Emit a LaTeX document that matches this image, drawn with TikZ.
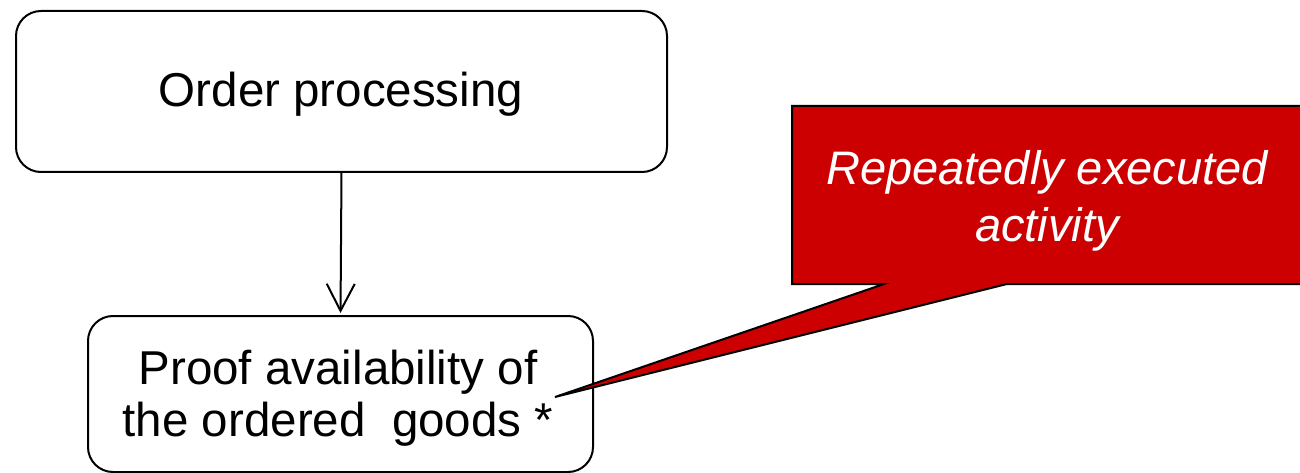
\documentclass[tikz,border=0pt]{standalone}
\usepackage{fontspec}
\setmainfont{Liberation Sans}
\usetikzlibrary{arrows.meta}
\definecolor{calloutred}{RGB}{204,0,0}
\tikzset{
  stepbox/.style={draw=black, line width=2pt, rounded corners=25pt, fill=white,
                  inner sep=0pt, outer sep=0pt},
  boxtext/.style={inner sep=0pt, align=center, font=\fontsize{47.5}{52}\selectfont},
  notetext/.style={inner sep=0pt, align=center, text=white,
                   font=\fontsize{47}{57}\selectfont\itshape},
  flow/.style={draw=black, line width=2pt, -{Straight Barb[length=27pt,width=28pt,line width=2pt]}},
  notebox/.style={draw=black, line width=2pt, fill=calloutred, line join=miter, miter limit=20}
}
\begin{document}
\begin{tikzpicture}[x=1pt,y=-1pt]
  \useasboundingbox (0,0) rectangle (1300,473);

  % process steps
  \node[stepbox, minimum width=651pt, minimum height=161pt] (order) at (341.5,91.5) {};
  \node[boxtext, anchor=base] (ordertext) at (341,107) {Order processing};

  \node[stepbox, minimum width=505pt, minimum height=156pt] (proof) at (340.5,394) {};
  \node[boxtext] (prooftext) at (338,398.7) {Proof availability of\\the ordered\ \ goods *};

  % control flow
  \draw[flow, shorten >=3pt] (order.south) -- (proof.north);

  % annotation callout
  \coordinate (tip) at (555,397);
  \coordinate (nw) at (792,106);
  \coordinate (ne) at (1302,106);
  \coordinate (se) at (1302,284);
  \coordinate (sw) at (792,284);
  \coordinate (tailr) at (1007,284);
  \coordinate (taill) at (884,284);
  \draw[notebox] (nw) -- (ne) -- (se) -- (tailr) -- (tip) -- (taill) -- (sw) -- cycle;
  \node[notetext] (note) at (1047,201.2) {Repeatedly executed\\activity};
\end{tikzpicture}
\end{document}
